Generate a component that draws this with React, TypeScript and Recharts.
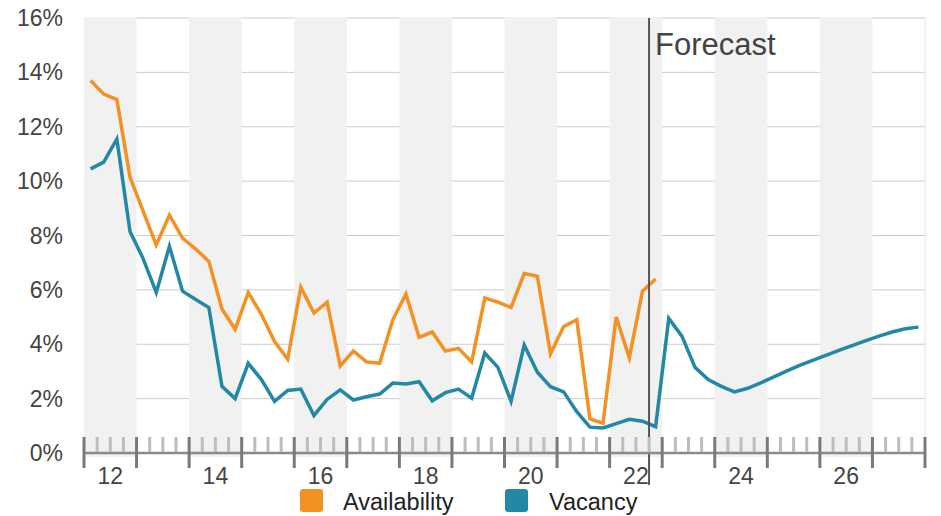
import React from "react";
import {
  LineChart,
  Line,
  XAxis,
  YAxis,
  CartesianGrid,
  ReferenceArea,
  ReferenceLine,
} from "recharts";

// Quarterly series, 2012 Q1 onwards
const availability: number[] = [
  13.7, 13.2, 13.0, 10.15, 8.9, 7.65, 8.75, 7.9, 7.5, 7.05, 5.3, 4.55, 5.9,
  5.1, 4.1, 3.45, 6.1, 5.15, 5.55, 3.2, 3.75, 3.35, 3.3, 4.9, 5.85, 4.25, 4.45,
  3.75, 3.85, 3.35, 5.7, 5.55, 5.35, 6.6, 6.5, 3.65, 4.65, 4.9, 1.25, 1.1, 5.0,
  3.5, 5.95, 6.4,
];

const vacancy: number[] = [
  10.45, 10.7, 11.55, 8.15, 7.15, 5.9, 7.6, 5.95, 5.65, 5.35, 2.45, 2.0, 3.3,
  2.7, 1.9, 2.3, 2.35, 1.38, 1.97, 2.32, 1.95, 2.07, 2.17, 2.57, 2.54, 2.62,
  1.92, 2.22, 2.35, 2.02, 3.68, 3.15, 1.9, 3.97, 2.97, 2.44, 2.25, 1.52, 0.95,
  0.92, 1.08, 1.24, 1.17, 0.97, 4.95, 4.3, 3.15, 2.7, 2.45, 2.25, 2.38, 2.58,
  2.8, 3.02, 3.23, 3.42, 3.6, 3.78, 3.96, 4.13, 4.3, 4.45, 4.57, 4.63,
];

const firstYear = 2012;
const years: number[] = Array.from({ length: 16 }, (_, i) => firstYear + i);
const shadedYears: number[] = years.filter((y) => y % 2 === 0);
const labelYears: number[] = [12, 14, 16, 18, 20, 22, 24, 26];
const yTicks: number[] = [0, 2, 4, 6, 8, 10, 12, 14, 16];
const forecastStartQuarter = 43; // boundary before 2022 Q4
const forecastLabel = "Forecast";
const seriesNames = { availability: "Availability", vacancy: "Vacancy" };

const ORANGE = "#F39222";
const TEAL = "#2388A6";
const FONT = "'Liberation Sans', Arial, Helvetica, sans-serif";

const data = vacancy.map((v, i) => ({
  x: i + 0.5,
  availability: i < availability.length ? availability[i] : null,
  vacancy: v,
}));

const quarterTicks: number[] = Array.from(
  { length: years.length * 4 + 1 },
  (_, i) => i
);

const XTick = (props: any) => {
  const { x, y, payload } = props;
  const v: number = payload.value;
  const major = v % 4 === 0;
  const yearIdx = (v - 2) / 4;
  const label =
    v % 4 === 2 && labelYears.includes((firstYear % 100) + yearIdx)
      ? String((firstYear % 100) + yearIdx)
      : null;
  return (
    <g>
      {major ? (
        <line x1={x} x2={x} y1={y - 16} y2={y + 15} stroke="#7a7a7a" strokeWidth={3} />
      ) : (
        <line x1={x} x2={x} y1={y - 16} y2={y - 1} stroke="#bdbdbd" strokeWidth={3} />
      )}
      {label && (
        <text
          x={x}
          y={y + 23}
          textAnchor="middle"
          dominantBaseline="central"
          fontSize={23}
          fontFamily={FONT}
          fill="#444"
        >
          {label}
        </text>
      )}
    </g>
  );
};

const YTick = (props: any) => {
  const { y, payload } = props;
  return (
    <text
      x={63}
      y={y}
      textAnchor="end"
      dominantBaseline="central"
      fontSize={23}
      fontFamily={FONT}
      fill="#444"
    >
      {`${payload.value}%`}
    </text>
  );
};

const BandShape = (props: any) => {
  const { x, y, width, height } = props;
  return <rect x={x} y={y - 1} width={width} height={height + 5} fill="#f1f1f1" />;
};

const ForecastShape = (props: any) => {
  const { x1, y1, y2 } = props;
  const top = Math.min(y1, y2);
  const bottom = Math.max(y1, y2);
  return (
    <g>
      <line x1={x1} x2={x1} y1={top} y2={bottom + 32} stroke="#555" strokeWidth={2} />
      <text x={x1 + 6} y={55} fontSize={31} fontFamily={FONT} fill="#444">
        {forecastLabel}
      </text>
    </g>
  );
};

const LegendItem = ({ color, label, left, textLeft }: any) => (
  <>
    <div
      style={{
        position: "absolute",
        left,
        top: 489,
        width: 23,
        height: 23,
        borderRadius: 3,
        background: color,
      }}
    />
    <div
      style={{
        position: "absolute",
        left: textLeft,
        top: 493,
        fontSize: 23.5,
        lineHeight: "18px",
        fontFamily: FONT,
        color: "#222",
        whiteSpace: "nowrap",
      }}
    >
      {label}
    </div>
  </>
);

export default function App() {
  return (
    <div style={{ position: "absolute", left: 0, top: 0, width: 941, height: 516, background: "#fff" }}>
      <LineChart
        width={941}
        height={516}
        data={data}
        margin={{ top: 18, right: 16, left: 0, bottom: 23 }}
      >
        {shadedYears.map((yr) => {
          const s = (yr - firstYear) * 4;
          return (
            <ReferenceArea
              key={yr}
              x1={s}
              x2={s + 4}
              y1={0}
              y2={16}
              shape={BandShape}
              ifOverflow="visible"
            />
          );
        })}
        <CartesianGrid vertical={false} stroke="#cccccc" strokeWidth={1} />
        <XAxis
          dataKey="x"
          type="number"
          domain={[0, years.length * 4]}
          ticks={quarterTicks}
          interval={0}
          height={40}
          tickSize={0}
          tickMargin={0}
          tickLine={false}
          axisLine={{ stroke: "#8a8a8a", strokeWidth: 2.5 }}
          tick={XTick}
          allowDataOverflow
        />
        <YAxis
          type="number"
          domain={[0, 16]}
          ticks={yTicks}
          interval={0}
          width={84}
          tickSize={0}
          tickMargin={0}
          tickLine={false}
          axisLine={false}
          tick={YTick}
        />
        <ReferenceLine x={years.length * 4} stroke="#e4e4e4" strokeWidth={1} />
        <Line
          type="linear"
          dataKey="availability"
          name={seriesNames.availability}
          stroke={ORANGE}
          strokeWidth={3.5}
          dot={false}
          isAnimationActive={false}
          connectNulls={false}
        />
        <Line
          type="linear"
          dataKey="vacancy"
          name={seriesNames.vacancy}
          stroke={TEAL}
          strokeWidth={3.5}
          dot={false}
          isAnimationActive={false}
        />
        <ReferenceLine
          x={forecastStartQuarter}
          shape={ForecastShape}
          ifOverflow="visible"
        />
      </LineChart>
      <LegendItem color={ORANGE} label={seriesNames.availability} left={300} textLeft={343} />
      <LegendItem color={TEAL} label={seriesNames.vacancy} left={505} textLeft={549} />
    </div>
  );
}
